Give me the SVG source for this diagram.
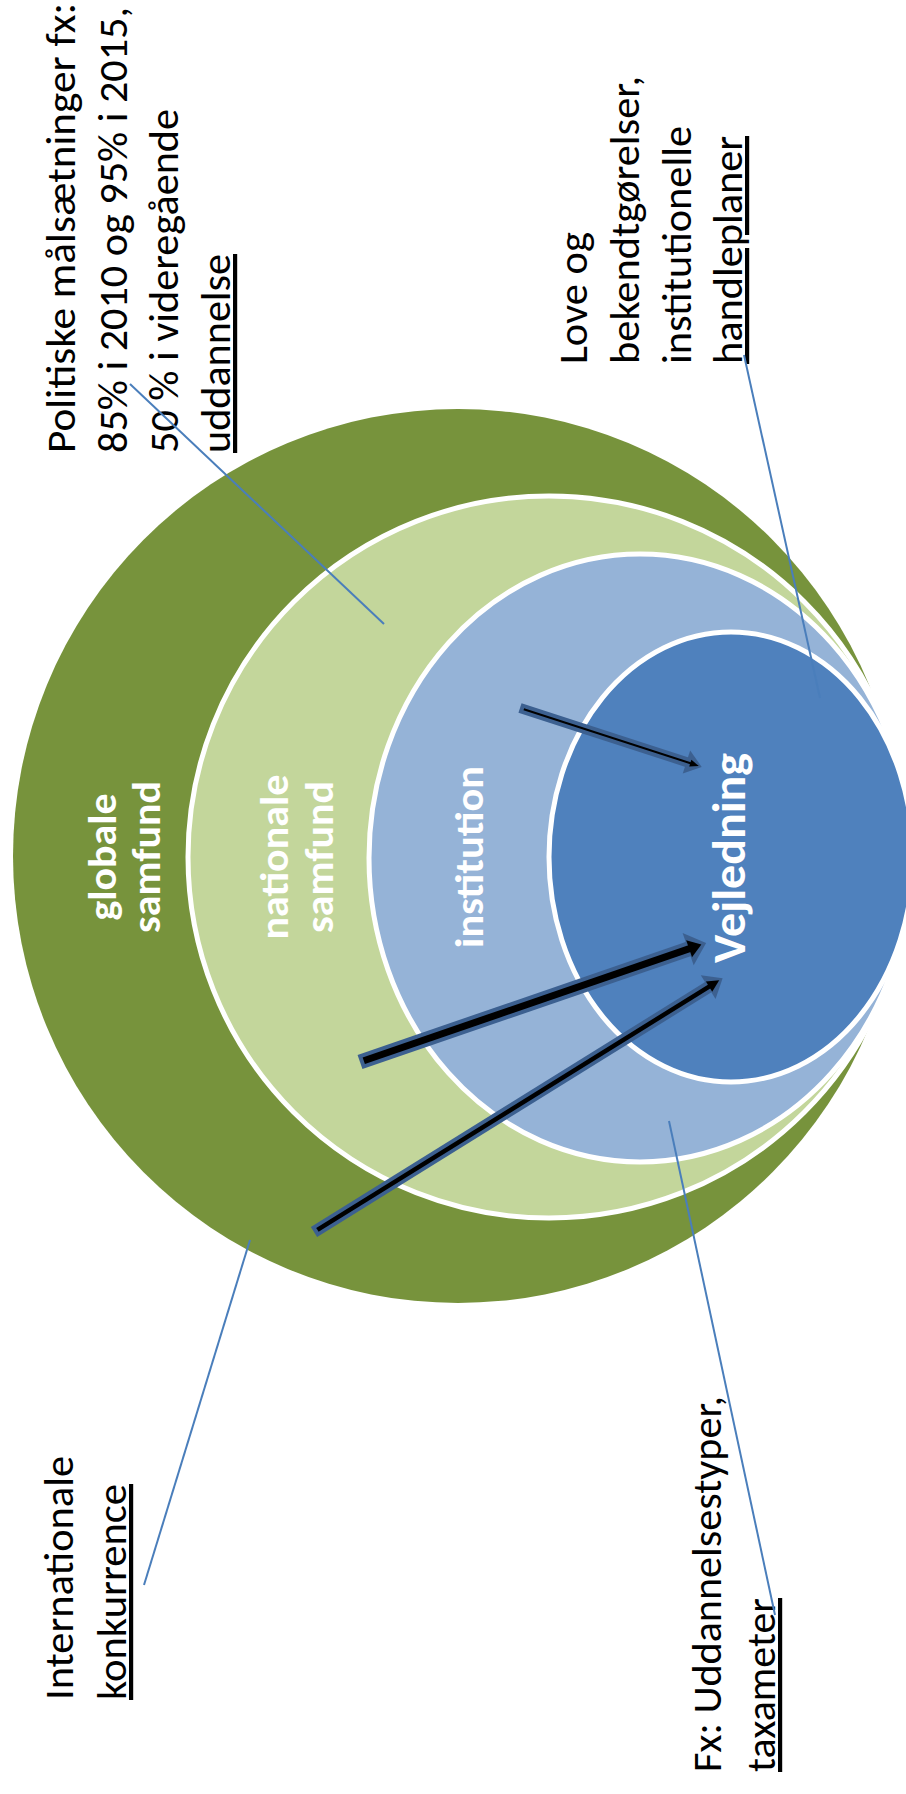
<svg xmlns="http://www.w3.org/2000/svg" width="906" height="1794" viewBox="0 0 906 1794">
<style>
.lbl{font-family:Carlito,Calibri,Lato,"Open Sans",sans-serif;font-size:42px;fill:#000}
.in{font-family:Carlito,Calibri,Lato,"Open Sans",sans-serif;font-size:41px;font-weight:bold;fill:#fff;text-anchor:middle}
.ring{stroke:#fff;stroke-width:5}
.lead{stroke:#4A7EBB;stroke-width:2;fill:none}
.ab{fill:#3C6090}
.ak{fill:#000}
</style>
<rect width="906" height="1794" fill="#fff"/>
<g id="globale">
<ellipse cx="458" cy="856" rx="445" ry="447" fill="#77933C"/>
<text class="in" transform="translate(116,857) rotate(-90)" textLength="127" lengthAdjust="spacingAndGlyphs">globale</text>
<text class="in" transform="translate(160,857) rotate(-90)" textLength="152" lengthAdjust="spacingAndGlyphs">samfund</text>
</g>
<g id="nationale">
<circle class="ring" cx="549" cy="857" r="361" fill="#C3D69B"/>
<text class="in" transform="translate(288,857) rotate(-90)" textLength="165" lengthAdjust="spacingAndGlyphs">nationale</text>
<text class="in" transform="translate(333,857) rotate(-90)" textLength="152" lengthAdjust="spacingAndGlyphs">samfund</text>
</g>
<g id="institution">
<ellipse class="ring" cx="640" cy="858" rx="271" ry="304" fill="#95B3D7"/>
<text class="in" transform="translate(483,857) rotate(-90)" textLength="182" lengthAdjust="spacingAndGlyphs">institution</text>
</g>
<g id="vejledning">
<ellipse class="ring" cx="731" cy="857" rx="182" ry="225" fill="#4F81BD"/>
<text class="in" style="font-size:46px" transform="translate(745,858) rotate(-90)" textLength="210" lengthAdjust="spacingAndGlyphs">Vejledning</text>
</g>
<g id="label-politiske">
<text class="lbl" transform="translate(75,453) rotate(-90)" textLength="450" lengthAdjust="spacingAndGlyphs">Politiske målsætninger  fx:</text>
<text class="lbl" transform="translate(127,453) rotate(-90)" textLength="446" lengthAdjust="spacingAndGlyphs">85% i 2010 og 95% i 2015,</text>
<text class="lbl" transform="translate(178,453) rotate(-90)" textLength="344" lengthAdjust="spacingAndGlyphs">50 % i videregående</text>
<text class="lbl" transform="translate(230,453) rotate(-90)" textLength="199" lengthAdjust="spacingAndGlyphs" text-decoration="underline">uddannelse</text>
</g>
<g id="label-love">
<text class="lbl" transform="translate(587,364) rotate(-90)" textLength="132" lengthAdjust="spacingAndGlyphs">Love og</text>
<text class="lbl" transform="translate(639,364) rotate(-90)" textLength="288" lengthAdjust="spacingAndGlyphs">bekendtgørelser,</text>
<text class="lbl" transform="translate(691,364) rotate(-90)" textLength="238" lengthAdjust="spacingAndGlyphs">institutionelle</text>
<text class="lbl" transform="translate(742,364) rotate(-90)" textLength="228" lengthAdjust="spacingAndGlyphs" text-decoration="underline">handleplaner</text>
</g>
<g id="label-international">
<text class="lbl" transform="translate(73,1700) rotate(-90)" textLength="244" lengthAdjust="spacingAndGlyphs">Internationale</text>
<text class="lbl" transform="translate(126,1700) rotate(-90)" textLength="216" lengthAdjust="spacingAndGlyphs" text-decoration="underline">konkurrence</text>
</g>
<g id="label-fx">
<text class="lbl" transform="translate(721,1772) rotate(-90)" textLength="376" lengthAdjust="spacingAndGlyphs">Fx: Uddannelsestyper,</text>
<text class="lbl" transform="translate(775,1772) rotate(-90)" textLength="174" lengthAdjust="spacingAndGlyphs" text-decoration="underline">taxameter</text>
</g>
<g id="connectors">
<line class="lead" x1="130" y1="384" x2="384" y2="624"/>
<line class="lead" x1="744" y1="355" x2="820" y2="698"/>
<line class="lead" x1="250" y1="1240" x2="144" y2="1585"/>
<line class="lead" x1="669" y1="1121" x2="775" y2="1615"/>
<g transform="translate(520,708) rotate(17.96)">
<rect class="ab" x="0" y="-5" width="178" height="10"/>
<polygon class="ab" points="175,-12 191,0 175,12"/>
<rect class="ak" x="4" y="-1" width="176" height="2"/>
<polygon class="ak" points="179,-3.5 188,0 179,3.5"/>
</g>
<g transform="translate(360,1062) rotate(-18.98)">
<rect class="ab" x="0" y="-7.5" width="350" height="15"/>
<polygon class="ab" points="347,-17 366,0 347,17"/>
<rect class="ak" x="4" y="-3.5" width="346" height="7"/>
<polygon class="ak" points="348,-9 361,0 348,9"/>
</g>
<g transform="translate(314,1232) rotate(-31.84)">
<rect class="ab" x="0" y="-6" width="467" height="12"/>
<polygon class="ab" points="464,-14 481,0 464,14"/>
<rect class="ak" x="4" y="-2.25" width="462" height="4.5"/>
<polygon class="ak" points="465,-6 477,0 465,6"/>
</g>
</g>
</svg>
